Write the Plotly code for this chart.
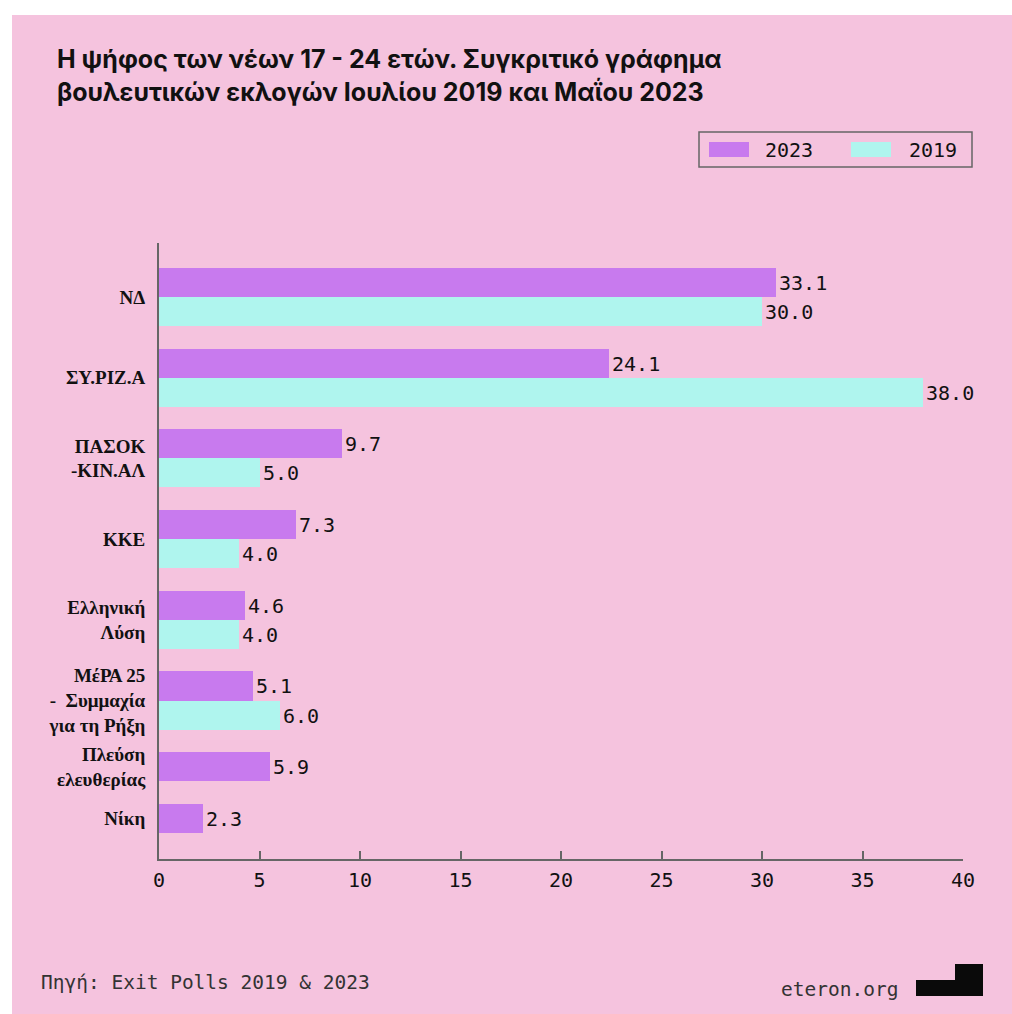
import plotly.graph_objects as go

# ---------------- data ----------------
parties = ["ΝΔ", "ΣΥ.ΡΙΖ.Α", "ΠΑΣΟΚ<br>-ΚΙΝ.ΑΛ", "ΚΚΕ", "Ελληνική<br>Λύση",
           "ΜέΡΑ 25<br>-  Συμμαχία<br>για τη Ρήξη", "Πλεύση<br>ελευθερίας", "Νίκη"]
bars_2023 = [30.7, 22.4, 9.1, 6.8, 4.3, 4.7, 5.5, 2.2]          # bar lengths as drawn
labels_2023 = [33.1, 24.1, 9.7, 7.3, 4.6, 5.1, 5.9, 2.3]        # printed values
vals_2019 = [30.0, 38.0, 5.0, 4.0, 4.0, 6.0, None, None]
x_ticks = [0, 5, 10, 15, 20, 25, 30, 35, 40]

# ---------------- style ----------------
W, H = 1012, 1014
L, R, T, B = 159, 963, 243, 859
PINK = "#F5C3DE"
PURPLE = "#C87AEE"
CYAN = "#AFF5EE"
AXIS = "#666666"
MONO = "DejaVu Sans Mono"
SERIF = "Liberation Serif"
SANS = "Inter"
GAP = 0.78          # gap between groups, in bar-thickness units


def px(x):
    return (x - L) / (R - L)


def py(y):
    return (B - y) / (B - T)


# group layout: each party takes one slot per bar it has, groups separated by GAP
n_bars = [1 + (v is not None) for v in vals_2019]
centers = []
pos = 0.0
for n in n_bars:
    centers.append(pos + n / 2)
    pos += n + GAP
span_end = pos - GAP

off_2023 = [-n / 2 for n in n_bars]
off_2019 = [0 for _ in n_bars]

fig = go.Figure()
fig.add_trace(go.Bar(
    y=centers, x=bars_2023, orientation="h", name="2023",
    marker=dict(color=PURPLE, line=dict(width=0)),
    width=1, offset=off_2023,
    text=[f"{v:.1f}" for v in labels_2023], textposition="outside",
    textfont=dict(family=MONO, size=20, color="#111111"),
    cliponaxis=False, showlegend=False,
))
fig.add_trace(go.Bar(
    y=centers, x=vals_2019, orientation="h", name="2019",
    marker=dict(color=CYAN, line=dict(width=0)),
    width=1, offset=off_2019,
    texttemplate="%{x:.1f}", textposition="outside",
    textfont=dict(family=MONO, size=20, color="#111111"),
    cliponaxis=False, showlegend=False,
))

shapes = [
    # pink canvas (white strip top and left)
    dict(type="rect", xref="paper", yref="paper", layer="below",
         x0=px(12), x1=px(W + 5), y0=py(15), y1=py(H + 5),
         fillcolor=PINK, line=dict(width=0)),
    # legend box
    dict(type="rect", xref="paper", yref="paper",
         x0=px(699), x1=px(972), y0=py(132), y1=py(167),
         fillcolor="rgba(0,0,0,0)", line=dict(color=AXIS, width=1.5)),
    dict(type="rect", xref="paper", yref="paper",
         x0=px(709), x1=px(749), y0=py(142), y1=py(157),
         fillcolor=PURPLE, line=dict(width=0)),
    dict(type="rect", xref="paper", yref="paper",
         x0=px(851), x1=px(891), y0=py(142), y1=py(157),
         fillcolor=CYAN, line=dict(width=0)),
    # logo
    dict(type="rect", xref="paper", yref="paper",
         x0=px(916), x1=px(983), y0=py(980), y1=py(996),
         fillcolor="#0A0A0A", line=dict(width=0)),
    dict(type="rect", xref="paper", yref="paper",
         x0=px(955), x1=px(983), y0=py(964), y1=py(980),
         fillcolor="#0A0A0A", line=dict(width=0)),
]

annotations = [
    dict(text="<b>Η ψήφος των νέων 17 - 24 ετών. Συγκριτικό γράφημα<br>βουλευτικών εκλογών Ιουλίου 2019 και Μαΐου 2023</b>",
         xref="paper", yref="paper", x=px(55), y=py(42), xanchor="left", yanchor="top",
         align="left", showarrow=False,
         font=dict(family=SANS, size=25, color="#111111")),
    dict(text="2023", xref="paper", yref="paper", x=px(763), y=py(150),
         xanchor="left", yanchor="middle", showarrow=False,
         font=dict(family=MONO, size=20, color="#111111")),
    dict(text="2019", xref="paper", yref="paper", x=px(907), y=py(150),
         xanchor="left", yanchor="middle", showarrow=False,
         font=dict(family=MONO, size=20, color="#111111")),
    dict(text="Πηγή: Exit Polls 2019 & 2023", xref="paper", yref="paper",
         x=px(39), y=py(982), xanchor="left", yanchor="middle", showarrow=False,
         font=dict(family=MONO, size=19.5, color="#333333")),
    dict(text="eteron.org", xref="paper", yref="paper",
         x=px(779), y=py(989), xanchor="left", yanchor="middle", showarrow=False,
         font=dict(family=MONO, size=19.5, color="#333333")),
]

fig.update_layout(
    width=W, height=H, autosize=False,
    margin=dict(l=L, r=W - R, t=T, b=H - B, pad=0),
    paper_bgcolor="white", plot_bgcolor="rgba(0,0,0,0)",
    barmode="overlay", bargap=0,
    shapes=shapes, annotations=annotations,
    showlegend=False,
    xaxis=dict(range=[0, 40], tickvals=x_ticks, ticktext=[str(v) for v in x_ticks],
               showgrid=False, zeroline=False,
               showline=True, linecolor=AXIS, linewidth=2,
               ticks="inside", ticklen=8, tickwidth=1.5, tickcolor=AXIS,
               tickfont=dict(family=MONO, size=20, color="#111111"),
               ticklabelstandoff=2, fixedrange=True),
    yaxis=dict(range=[span_end + 0.9, -0.86],
               tickvals=centers, ticktext=parties,
               showgrid=False, zeroline=False,
               showline=True, linecolor=AXIS, linewidth=2,
               ticks="", ticklabelstandoff=8,
               tickfont=dict(family=SERIF, size=19, color="#111111", weight="bold"),
               fixedrange=True),
)

fig.write_html("out.html", config={"displayModeBar": False},
               post_script="document.body.style.margin='0';document.body.style.overflow='hidden';")
